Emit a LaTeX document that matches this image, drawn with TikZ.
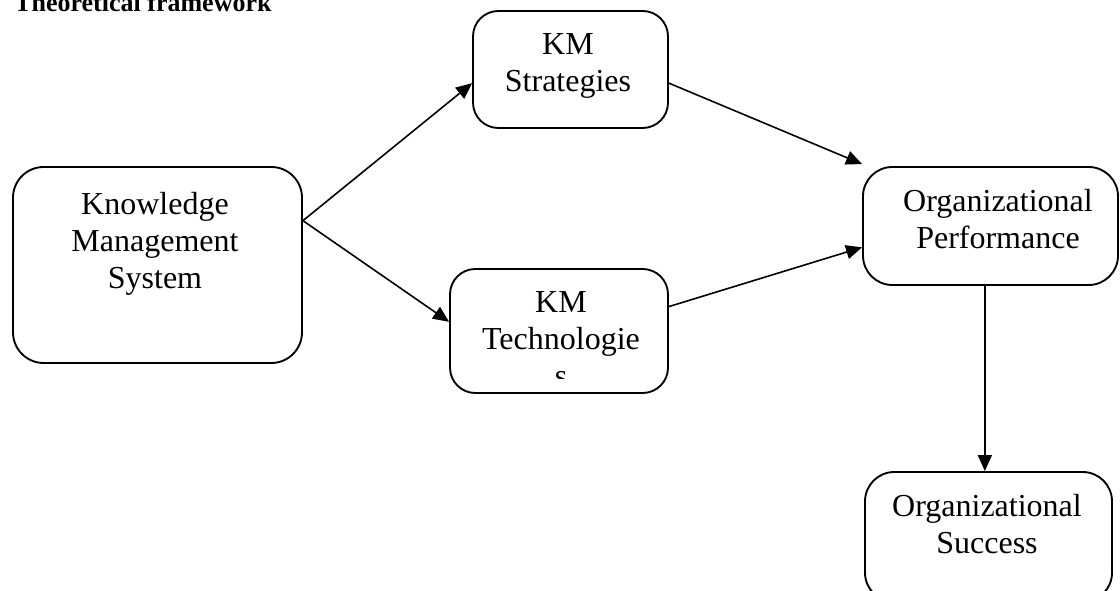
\documentclass[tikz,border=0pt]{standalone}
\usepackage{fontspec}
\setmainfont{Liberation Serif}
\usetikzlibrary{arrows.meta,calc}
\begin{document}
\begin{tikzpicture}[x=0.75pt,y=-0.75pt,
  box/.style={draw, line width=1.4pt, rounded corners=19pt, inner sep=0pt},
  txt/.style={anchor=base, align=center, inner sep=0pt, font=\fontsize{24}{27.75}\selectfont},
  conn/.style={line width=1.2pt, -{Triangle[length=12pt,width=10.5pt]}}]
\useasboundingbox (0,0) rectangle (1120,591);
\clip (0,0) rectangle (1120,591);
% title
\node[anchor=base west, inner sep=0pt, font=\fontsize{19.5}{20}\selectfont\bfseries] (title) at (14,12) {Theoretical framework};
% boxes
\node[box, rounded corners=23pt, minimum width=216.75pt, minimum height=147pt] (kms) at (157.5,265) {};
\node[box, minimum width=146.25pt, minimum height=87.75pt] (strat) at (570.5,69.5) {};
\node[box, minimum width=163.5pt, minimum height=93pt] (tech) at (559,331) {};
\node[box, rounded corners=22pt, minimum width=191.25pt, minimum height=88.5pt] (perf) at (990.5,226) {};
\node[box, rounded corners=22pt, minimum width=185.25pt, minimum height=97.5pt] (succ) at (988.5,537) {};
% texts (anchor = baseline of the last line)
\node[txt] (kmsT) at ($(kms.north)+(-2.5,122)$) {Knowledge\\Management\\System};
\node[txt] (stratT) at ($(strat.north)+(-2.5,81)$) {KM\\Strategies};
\begin{scope}
  \clip (tech.north west) rectangle ($(tech.south east)+(0,-15)$);
  \node[txt] (techT) at ($(tech.north)+(2,118)$) {KM\\Technologie\\s};
\end{scope}
\node[txt] (perfT) at ($(perf.north)+(7.5,82)$) {Organizational\\Performance};
\node[txt] (succT) at ($(succ.north)+(-1.5,82)$) {Organizational\\Success};
% connectors
\coordinate (kmsOut) at ($(kms.north east)!0.276!(kms.south east)$);
\draw[conn] (kmsOut) -- ($(strat.north west)!0.615!(strat.south west)$);
\draw[conn] (kmsOut) -- ($(tech.north west)!0.427!(tech.south west)$);
\draw[conn] ($(strat.north east)!0.615!(strat.south east)$) -- ($(perf.north west)+(0,-2)$);
\draw[conn] ($(tech.north east)!0.306!(tech.south east)$) -- ($(perf.north west)!0.678!(perf.south west)$);
\coordinate (perfOut) at ($(perf.south west)!0.478!(perf.south east)$);
\draw[conn] (perfOut) -- (perfOut |- succ.north);
\end{tikzpicture}
\end{document}
